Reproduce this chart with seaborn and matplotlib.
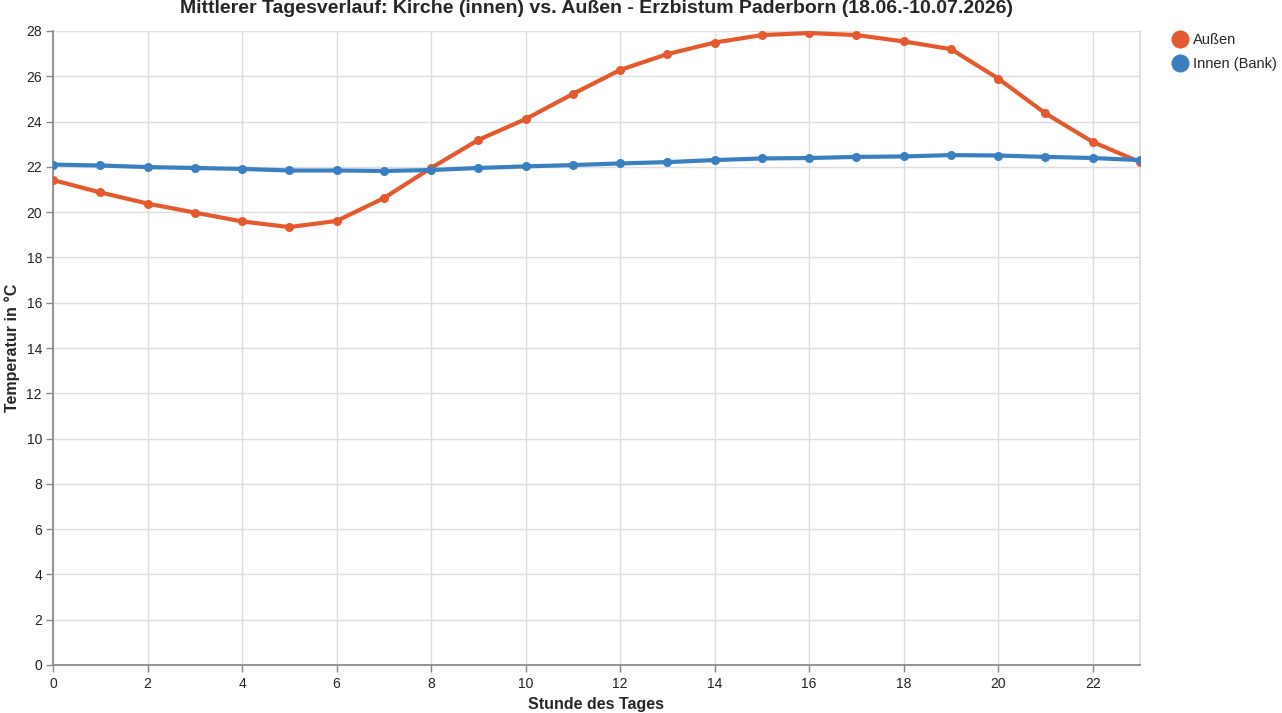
import matplotlib
matplotlib.use("Agg")
import matplotlib.pyplot as plt
import seaborn as sns
import pandas as pd
from matplotlib.lines import Line2D

hours = list(range(24))
aussen = [21.42, 20.87, 20.38, 19.98, 19.59, 19.34, 19.61, 20.62, 21.95, 23.19,
          24.11, 25.22, 26.28, 26.98, 27.49, 27.82, 27.91, 27.82, 27.54, 27.20,
          25.90, 24.36, 23.10, 22.21]
innen = [22.10, 22.06, 21.99, 21.95, 21.91, 21.84, 21.84, 21.82, 21.86, 21.95,
         22.02, 22.08, 22.15, 22.21, 22.30, 22.37, 22.39, 22.44, 22.46, 22.52,
         22.50, 22.44, 22.39, 22.30]
series_names = ["Außen", "Innen (Bank)"]
colors = ["#e5592f", "#3a80c1"]
y_ticks = list(range(0, 29, 2))
x_ticks = list(range(0, 23, 2))

df = pd.DataFrame({
    "Stunde": hours * 2,
    "Temp": aussen + innen,
    "Serie": [series_names[0]] * 24 + [series_names[1]] * 24,
})

sns.set_theme(style="white")
plt.rcParams["font.family"] = ["Liberation Sans", "DejaVu Sans"]

fig = plt.figure(figsize=(12.82, 7.13), dpi=100)
ax = fig.add_axes([53 / 1282, 48 / 713, (1140 - 53) / 1282, (665 - 31) / 713])

sns.lineplot(data=df, x="Stunde", y="Temp", hue="Serie", hue_order=series_names,
             palette=colors, marker="o", markersize=6.5, markeredgewidth=0,
             linewidth=3, ax=ax, legend=False, zorder=3)

ax.set_xlim(0, 23)
ax.set_ylim(0, 28)
ax.set_xticks(x_ticks)
ax.set_yticks(y_ticks)
ax.grid(True, color="#dddddd", linewidth=1, zorder=0)
ax.set_axisbelow(True)
ax.spines["top"].set_visible(False)
ax.spines["right"].set_color("#dddddd")
ax.spines["left"].set_color("#888888")
ax.spines["bottom"].set_color("#888888")
ax.tick_params(axis="x", direction="out", length=5, width=1, color="#888888",
               labelsize=10, labelcolor="#222222", pad=4, bottom=True)
ax.tick_params(axis="y", direction="out", length=5, width=1, color="#888888",
               labelsize=10, labelcolor="#222222", pad=3, left=True)

ax.set_xlabel("Stunde des Tages", fontsize=11.5, fontweight="bold")
ax.xaxis.set_label_coords(0.5, -32 / 634)
ax.set_ylabel("Temperatur in °C", fontsize=11.5, fontweight="bold")
ax.yaxis.set_label_coords(-33 / 1087, 0.5)
ax.set_title("Mittlerer Tagesverlauf: Kirche (innen) vs. Außen - Erzbistum Paderborn (18.06.-10.07.2026)",
             fontsize=14, fontweight="bold", pad=13)

handles = [Line2D([0], [0], marker="o", linestyle="", markersize=13,
                  markerfacecolor=c, markeredgewidth=0) for c in colors]
fig.legend(handles, series_names, loc="upper left", bbox_to_anchor=(1171 / 1282, 1 - 33 / 713),
           frameon=False, fontsize=10.5, handletextpad=0.3, labelspacing=0.7,
           borderaxespad=0, borderpad=0, handlelength=1.2)

fig.savefig("out.png", dpi=100)
